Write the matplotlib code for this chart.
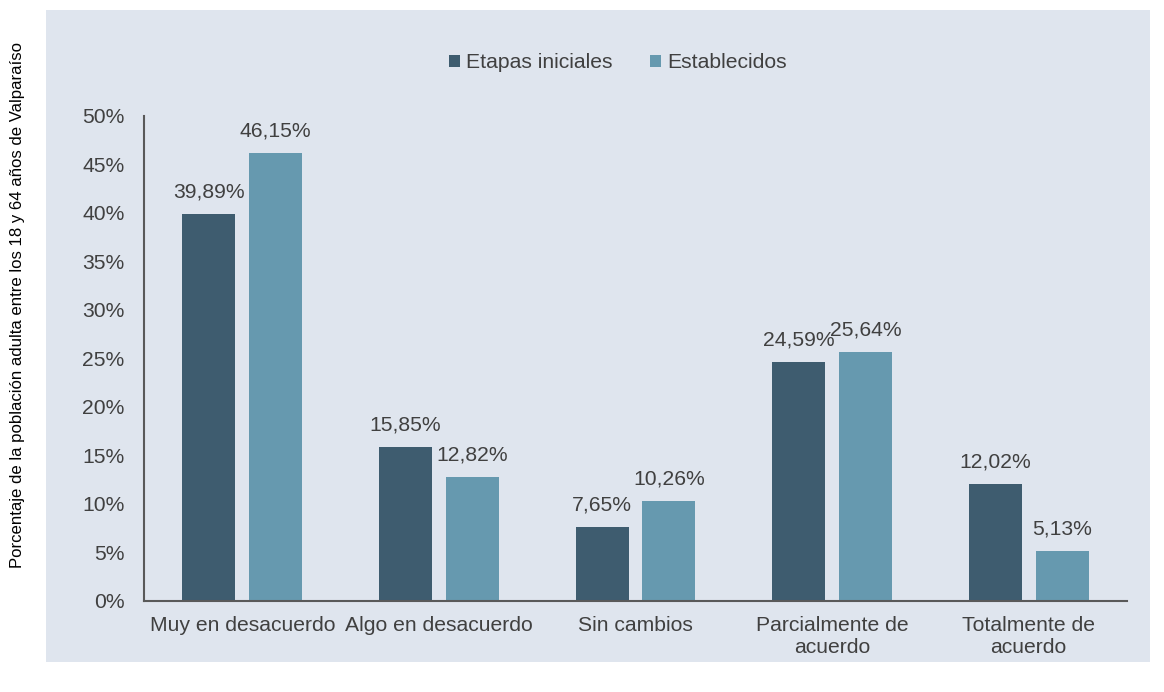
import numpy as np
import matplotlib
matplotlib.use("Agg")
import matplotlib.pyplot as plt
from matplotlib.patches import Rectangle

categorias = ["Muy en desacuerdo", "Algo en desacuerdo", "Sin cambios",
              "Parcialmente de\nacuerdo", "Totalmente de\nacuerdo"]
etapas_iniciales = [39.89, 15.85, 7.65, 24.59, 12.02]
establecidos = [46.15, 12.82, 10.26, 25.64, 5.13]
series_nombres = ["Etapas iniciales", "Establecidos"]
y_ticks = [0, 5, 10, 15, 20, 25, 30, 35, 40, 45, 50]

color_oscuro = "#3E5C6F"
color_claro = "#6699AF"
color_texto = "#404040"
fondo = "#DFE5EE"

plt.rcParams['font.family'] = ['Liberation Sans', 'DejaVu Sans']

fig = plt.figure(figsize=(11.64, 6.92), dpi=100)
fig.patch.set_facecolor("white")
# panel de fondo
fig.add_artist(Rectangle((46 / 1164, 1 - 662 / 692), (1150 - 46) / 1164, (662 - 10) / 692,
                         transform=fig.transFigure, facecolor=fondo, edgecolor="none", zorder=-10))

ax = fig.add_axes([144 / 1164, 1 - 601 / 692, (1127 - 144) / 1164, (601 - 116) / 692])
ax.set_facecolor("none")
ax.set_zorder(5)

x = np.arange(len(categorias))
ancho = 0.27
desp = 0.17
b1 = ax.bar(x - desp, etapas_iniciales, ancho, color=color_oscuro, label=series_nombres[0])
b2 = ax.bar(x + desp, establecidos, ancho, color=color_claro, label=series_nombres[1])

def fmt(v):
    return f"{v:.2f}".replace(".", ",") + "%"

for barras, vals in ((b1, etapas_iniciales), (b2, establecidos)):
    for b, v in zip(barras, vals):
        ax.text(b.get_x() + b.get_width() / 2, v + 1.3, fmt(v), ha="center", va="bottom",
                fontsize=15.2, color=color_texto)

ax.set_xlim(-0.5, len(categorias) - 0.5)
ax.set_ylim(0, 50)
ax.set_yticks(y_ticks)
ax.set_yticklabels([f"{t}%" for t in y_ticks])
ax.set_xticks(x)
ax.set_xticklabels(categorias, linespacing=1.2)
ax.tick_params(axis="both", length=0, labelsize=15.2, colors=color_texto)
ax.tick_params(axis="y", pad=14)
ax.tick_params(axis="x", pad=11)
for s in ("top", "right"):
    ax.spines[s].set_visible(False)
for s in ("left", "bottom"):
    ax.spines[s].set_color("#595959")
    ax.spines[s].set_linewidth(1.5)

fig.text(18 / 1164, 1 - 305 / 692, "Porcentaje de la población adulta entre los 18 y 64 años de Valparaíso",
         rotation=90, ha="center", va="center", fontsize=12.1, color="black")

leg = fig.legend(loc="center", bbox_to_anchor=(618 / 1164, 1 - 63 / 692), ncol=2, frameon=False,
                 fontsize=15.2, handlelength=0.5, handleheight=0.5, handletextpad=0.3, columnspacing=1.8)
for t in leg.get_texts():
    t.set_color(color_texto)

fig.savefig("out.png", dpi=100, facecolor="white")
